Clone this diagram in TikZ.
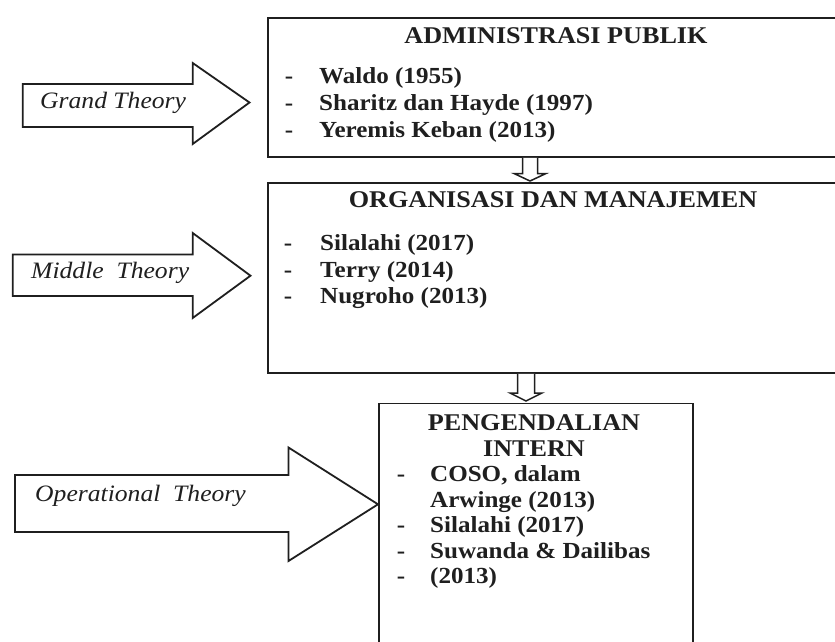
\documentclass[tikz,border=0pt]{standalone}
\usepackage{fontspec}
\setmainfont{Liberation Serif}[FakeStretch=1.09]
\usetikzlibrary{calc}
\definecolor{ink}{gray}{0.12}
\newcommand\hdarrow[5]{% start, end, shaft half-width, head half-width, head length
  \draw[hollow] ($(#1)+(-#3,0)$) -- ($(#2)+(-#3,-#5)$) -- ($(#2)+(-#4,-#5)$) -- (#2)
    -- ($(#2)+(#4,-#5)$) -- ($(#2)+(#3,-#5)$) -- ($(#1)+(#3,0)$);}
\begin{document}
\begin{tikzpicture}[x=1pt,y=-1pt,
  frame/.style={draw=ink, line width=1.8pt, fill=white, inner sep=0pt, anchor=north west},
  title/.style={font=\fontsize{24}{26}\selectfont\bfseries, text=ink, inner sep=0pt, anchor=base},
  item/.style={font=\fontsize{23}{26}\selectfont\bfseries, text=ink, anchor=west, inner sep=0pt, text height=16pt, text depth=5pt},
  dashmark/.style={item, anchor=center},
  theory/.style={font=\fontsize{23.5}{26}\selectfont\itshape, text=ink, anchor=west, inner sep=0pt, text height=16pt, text depth=5pt},
  bigarrow/.style={draw=ink, line width=1.8pt, fill=white, line join=miter},
  hollow/.style={draw=ink, line width=1.5pt, fill=white, line join=miter}]
\useasboundingbox (0,0) rectangle (835,641);
\clip (0,0) rectangle (835,641);

% boxes
\node[frame, minimum width=620pt, minimum height=139pt] (box1) at (267,17) {};
\node[frame, minimum width=620pt, minimum height=190pt] (box2) at (267,182) {};
\node[frame, minimum width=314pt, minimum height=260pt] (box3) at (378,402.5) {};

% box 1
\node[title] (t1) at (556,43.3) {ADMINISTRASI PUBLIK};
\node[dashmark] (d11) at (289,78) {-};
\node[item] (i11) at (319,78) {Waldo (1955)};
\node[dashmark] (d12) at (289,105) {-};
\node[item] (i12) at (319,105) {Sharitz dan Hayde (1997)};
\node[dashmark] (d13) at (289,132) {-};
\node[item] (i13) at (319,132) {Yeremis Keban (2013)};

% box 2
\node[title] (t2) at (553,207.5) {ORGANISASI DAN MANAJEMEN};
\node[dashmark] (d21) at (288,245) {-};
\node[item] (i21) at (320,245) {Silalahi (2017)};
\node[dashmark] (d22) at (288,272) {-};
\node[item] (i22) at (320,272) {Terry (2014)};
\node[dashmark] (d23) at (288,298) {-};
\node[item] (i23) at (320,298) {Nugroho (2013)};

% box 3
\node[title] (t3a) at (534,430.5) {PENGENDALIAN};
\node[title] (t3b) at (534,456.5) {INTERN};
\node[dashmark] (d31) at (401,476) {-};
\node[item] (i31) at (430,476) {COSO, dalam};
\node[item] (i32) at (430,502) {Arwinge (2013)};
\node[dashmark] (d33) at (401,527) {-};
\node[item] (i33) at (430,527) {Silalahi (2017)};
\node[dashmark] (d34) at (401,553) {-};
\node[item] (i34) at (430,553) {Suwanda \& Dailibas};
\node[dashmark] (d35) at (401,578) {-};
\node[item] (i35) at (430,578) {(2013)};

% connectors between boxes
\path (box1.south west) ++(263,0) coordinate (a1s);
\path (box2.north west) ++(263,-1) coordinate (a1e);
\hdarrow{a1s}{a1e}{7.5}{16}{7.5}
\path (box2.south west) ++(259,0) coordinate (a2s);
\path (box3.north west) ++(148,-1.5) coordinate (a2e);
\hdarrow{a2s}{a2e}{8.5}{16}{8}

% theory arrows
\coordinate (gtip) at (249.5,102.5);
\draw[bigarrow] (22.7,84) -- (192.7,84) -- (192.7,63) -- (gtip) -- (192.7,144) -- (192.7,127) -- (22.7,127) -- cycle;
\node[theory] (gt) at (40,103) {Grand Theory};

\coordinate (mtip) at (250.5,275.7);
\draw[bigarrow] (12.7,254.5) -- (192.7,254.5) -- (192.7,233) -- (mtip) -- (192.7,318) -- (192.7,296) -- (12.7,296) -- cycle;
\node[theory] (mt) at (31,273) {Middle\ \ Theory};

\coordinate (otip) at (box3.west |- 0,504.3);
\draw[bigarrow] (15,475) -- (288.5,475) -- (288.5,447.5) -- (otip) -- (288.5,561) -- (288.5,532) -- (15,532) -- cycle;
\node[theory] (ot) at (35,496) {Operational\ \ Theory};
\end{tikzpicture}
\end{document}
